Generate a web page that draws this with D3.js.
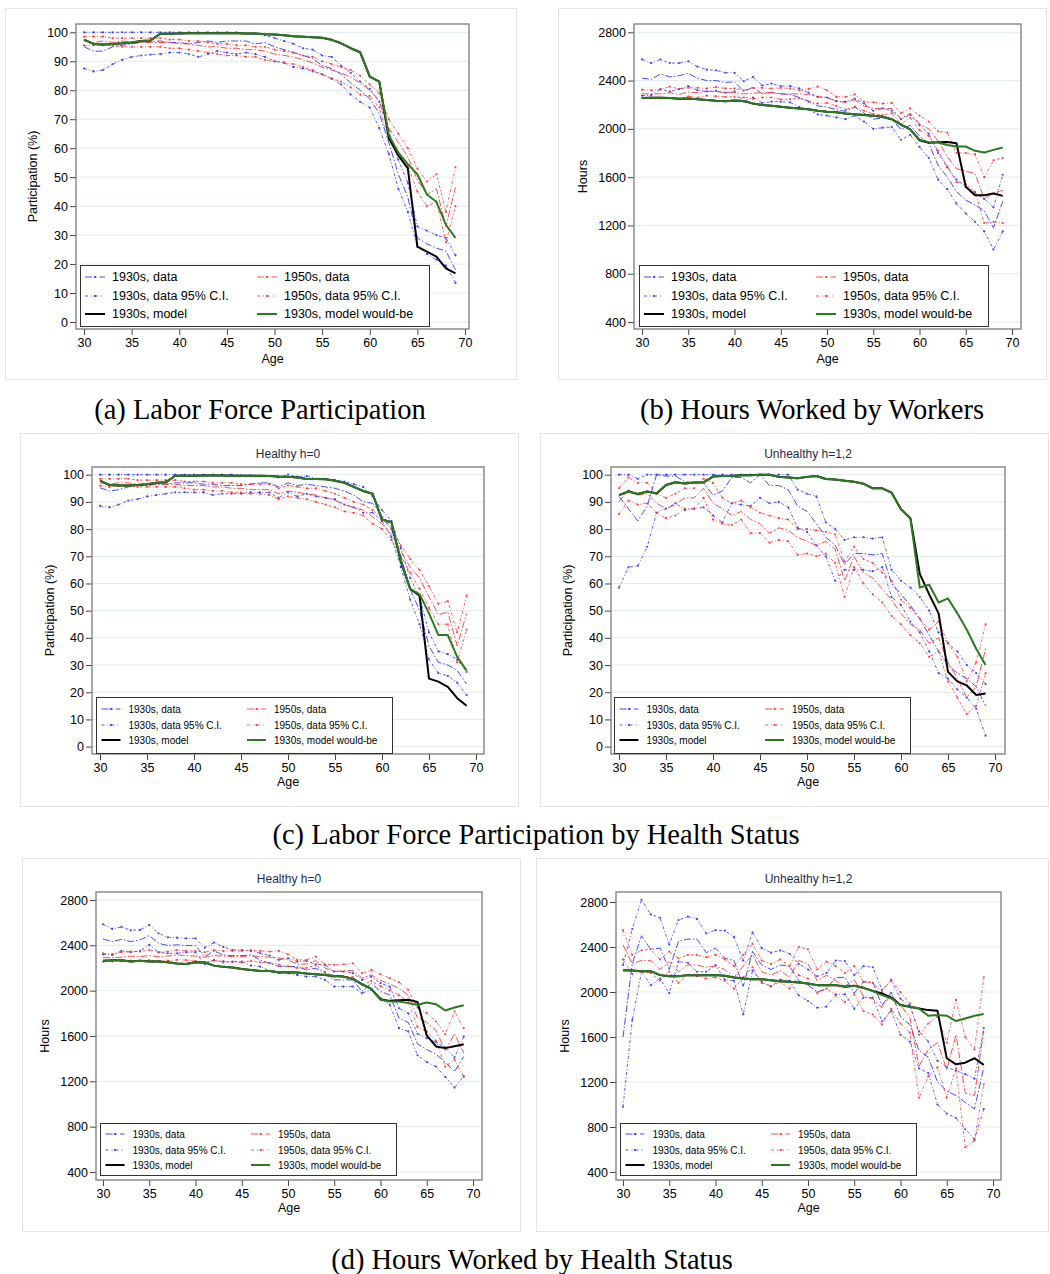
<!DOCTYPE html>
<html>
<head>
<meta charset="utf-8">
<script src="https://cdn.jsdelivr.net/npm/d3@7"></script>
<style>
  body { margin: 0; background: #fff; }
  svg { display: block; }
  text { font-family: "Liberation Sans", Arial, Helvetica, sans-serif; }
  .cap { font-family: "Liberation Serif", "Times New Roman", serif; }
</style>
</head>
<body>
<svg id="fig" width="1050" height="1274"></svg>
<script>
// Ages 30..69
var ages = [30,31,32,33,34,35,36,37,38,39, 40,41,42,43,44,45,46,47,48,49,
            50,51,52,53,54,55,56,57,58,59, 60,61,62,63,64,65,66,67,68,69];
var xTicks = [30,35,40,45,50,55,60,65,70];
var pctTicks = [0,10,20,30,40,50,60,70,80,90,100];
var hourTicks = [400,800,1200,1600,2000,2400,2800];

// (a) participation, all
var aHi30   = [100,100,100,100,100,100,100,100,100,100, 100,100,100,100,100,100,100,99.5,99.5,99, 98,97,96,94.5,94,92,91.5,88.5,86,83, 80.5,76,66,56,48,33,31.5,30,29,23];
var aData30 = [95,93.5,93.5,95,95.5,96,96.5,96.8,97,96.5, 96.5,96,96.5,97,96.5,97,97,97,96,96.5, 95,94,93,92,91,88.5,87.5,85.5,82.5,80, 77,72,62,51,43,29,27,25.5,24.5,18];
var aLo30   = [87.5,86.5,87,89,90.5,91.5,92,92.3,92.5,93, 93,92.5,91.5,92.5,93.5,93,92.5,93,92.5,91.5, 90,89.5,88,87.5,86.5,85.5,84,82,78.5,76, 74,67,58,46,38,26,23.5,21.5,19.5,13.5];
var aHi50   = [98.5,98.5,98.5,98,98,98,98,98,98,97.5, 97.5,97,97,96.5,96,96,95.5,95.5,95,95, 94,93.5,93,92,91.5,90,89,88,87,85, 82,79,70,65,60,53,48.5,51,38,53.5];
var aData50 = [97,96.5,97,96.5,97,96.5,96.5,96.5,96.5,96.5, 96,96,95.5,95,95,94.5,94.5,94,94,93.5, 92.5,92,91.5,90.5,89.5,88,87,86,84.5,82.5, 80,76.5,67,62,57,49,44,46,33,46.5];
var aLo50   = [95.5,95.5,95.5,95.5,95,95,95,95,95,94.5, 94.5,94,93.5,93,92.5,92,92,91.5,91.5,90.5, 90,89.5,89,88,87,85.5,84,83,81,78.5, 78,74,63,58.5,54,45,40,41.5,27.5,40];
var aModel  = [97.5,96,95.8,96,96.2,96.5,97,97.2,99.5,99.5, 99.6,99.7,99.7,99.7,99.7,99.7,99.7,99.6,99.6,99.3, 99.2,99,98.6,98.5,98.3,98.1,97.4,96.2,94.5,93.1, 84.7,83,63.5,57.5,53,26,24.3,22.6,18.5,16.8];
var aWould  = [97.5,96,95.8,96,96.2,96.5,97,97.2,99.5,99.5, 99.6,99.7,99.7,99.7,99.7,99.7,99.7,99.6,99.6,99.3, 99.2,99,98.6,98.5,98.3,98.1,97.4,96.2,94.5,93.1, 84.7,83,64.5,58.5,54.5,51,44,41.5,33.5,29];

// (b) hours, all
var bHi30   = [2575,2545,2575,2545,2545,2560,2515,2490,2485,2465, 2465,2395,2430,2360,2375,2355,2355,2335,2300,2265, 2260,2230,2225,2250,2210,2150,2170,2150,2080,2115, 2030,1960,1800,1680,1580,1520,1470,1420,1350,1620];
var bData30 = [2420,2410,2455,2430,2440,2460,2420,2400,2400,2385, 2390,2310,2345,2290,2300,2290,2285,2260,2230,2190, 2180,2160,2145,2180,2130,2080,2090,2080,1995,2030, 1940,1880,1700,1600,1480,1410,1370,1320,1180,1400];
var bLo30   = [2275,2280,2330,2310,2330,2355,2320,2310,2315,2300, 2310,2225,2260,2215,2225,2225,2220,2180,2160,2120, 2110,2095,2080,2110,2060,2000,2010,2015,1910,1950, 1850,1760,1580,1500,1380,1300,1230,1150,1000,1150];
var bHi50   = [2325,2320,2325,2350,2330,2340,2340,2335,2345,2335, 2335,2320,2340,2340,2335,2340,2335,2320,2330,2350, 2320,2265,2265,2285,2225,2220,2210,2215,2130,2170, 2110,2060,1980,1970,1800,1800,1790,1600,1740,1760];
var bData50 = [2290,2290,2290,2300,2285,2305,2300,2310,2310,2300, 2300,2290,2295,2300,2300,2290,2290,2290,2285,2265, 2260,2230,2220,2240,2190,2170,2165,2170,2085,2130, 2040,2000,1900,1770,1670,1650,1630,1420,1470,1490];
var bLo50   = [2255,2260,2255,2255,2245,2270,2260,2275,2270,2265, 2265,2260,2250,2260,2260,2245,2245,2255,2225,2210, 2215,2190,2160,2185,2150,2125,2115,2130,2040,2090, 1990,1940,1820,1690,1560,1540,1480,1220,1230,1220];
var bModel  = [2255,2258,2258,2255,2250,2252,2245,2240,2232,2228, 2235,2230,2210,2198,2192,2183,2175,2168,2162,2150, 2142,2138,2128,2122,2115,2108,2100,2080,2035,1995, 1905,1885,1890,1892,1880,1520,1450,1450,1465,1445];
var bWould  = [2255,2258,2258,2255,2250,2252,2245,2240,2232,2228, 2235,2230,2210,2198,2192,2183,2175,2168,2162,2150, 2142,2138,2128,2122,2115,2108,2100,2080,2035,1995, 1910,1890,1887,1867,1854,1854,1818,1804,1826,1845];

// (c) participation, healthy
var cHHi30   = [100,100,100,100,100,100,100,100,100,100, 100,100,100,100,100,99.8,99.8,99.5,99.5,99, 100,99.3,99.5,98.5,98.5,98,97.5,96.5,95.5,92, 87,83,73,62,55,42,35,34,32,27.5];
var cHData30 = [95.2,94,94.5,95.5,96,96,96.5,96.5,97,97, 97,96.5,96.5,96,96,96,96.5,97,97,95.5, 97,96,96.5,96,95.5,95,94,92.5,90,89.5, 85,80,70,58,50,37,31,30,28,23];
var cHLo30   = [88.5,88,89,90.5,91,92,92.5,93,93.5,93.5, 93.5,93.5,92.5,93,93,93,93.5,93.5,93.5,91.5, 93.5,92,93,92,91.5,91,89,88,86,86, 83,77,66,54,45,32,27,26,23.5,19];
var cHHi50   = [98.5,98.5,98.5,98.5,98,98,98,98,98,97.5, 97.5,97.5,97,97,97,96.5,96.5,96.5,96.5,95, 96,95.5,95,95,94,93,91.5,90,89,87, 84,80,74,69,65,59,52.5,53.5,42,55.5];
var cHData50 = [97,96.5,97,97,96.5,96.5,96.5,96.5,96.5,96, 96,96,95.5,95.5,95,95,94.5,94.5,94.5,93, 94,93.5,93,92.5,91.5,90.5,89,88,87,84.5, 82,78,72,66,62,55,48.5,49.5,37,49];
var cHLo50   = [96,95.5,96,96,95.5,95.5,95.5,95.5,95.5,95, 94.5,94.5,94,94,93.5,93.5,93,93,92.5,91, 92,91.5,91,90,89,88,86.5,86,85,82, 80,76,70,64,58,51,45,45,31,43];
var cHModel  = [97.8,96.2,96,96,96.2,96.5,97,97.2,99.6,99.6, 99.6,99.7,99.7,99.7,99.6,99.6,99.6,99.6,99.5,99.3, 99.2,99,98.4,98.4,98.3,97.8,97,95.5,94,93, 83.5,82.5,68,58,55.5,25,23.9,22,17.8,15];
var cHWould  = [97.8,96.2,96,96,96.2,96.5,97,97.2,99.6,99.6, 99.6,99.7,99.7,99.7,99.6,99.6,99.6,99.6,99.5,99.3, 99.2,99,98.4,98.4,98.3,97.8,97,95.5,94,93, 83.5,82.5,68.5,58,56,49,41,41,33,28];

// (c) participation, unhealthy
var cUHi30   = [100,100,98.5,100,100,100,100,100,100,100, 100,100,100,100,100,100,100,100,100,94.5, 93,92,82.5,80,76,77,77,76.5,77,65, 61,58.5,55,50,42,38,35,30,27,23];
var cUData30 = [92,87.5,83,88.5,100,99.5,99.5,97.5,97,97, 92.5,94,99,99,97,100,96,96,94.5,88.5, 86.5,82,77,74,67,71,71,70.5,71,60, 56,52,47,41,35,30,27,25,22,15];
var cULo30   = [58.5,66,66.5,73.5,86,87.5,89.5,87,87.5,88, 85,82.5,89.5,89,88.5,91.5,89.5,90,88,80.5, 79,74,70,61,65,65,65,64.5,66,55, 52,46,42,35,27,25,21,18,14,4];
var cUHi50   = [95,99,97,97,93,91.5,93,95,95,98.5, 97,91.5,89.5,90.5,88,86,85,84,83.5,80, 80,79.5,79,78,68,73.5,69,67.5,64,61, 54,51,47,43,46,38,33,24,31,45];
var cUData50 = [90,94.5,92.5,93,89.5,87.5,89,91.5,91.5,95, 89.5,87.5,85,86.5,83.5,82,78.5,80.5,79.5,77, 75.5,74,75.5,72.5,61,70,64,62,58,54, 49,45,43,38,40,31,25,18,22,36];
var cULo50   = [85.5,90.5,89,89.5,86,84,85,87.5,87.5,91.5, 83.5,82,81.5,83.5,78.5,78.5,75,76,75.5,70.5, 71,70,71,67.5,55,66,60,56,53,48, 45,41,38,33,35,24,18,12,15,27];
var cUModel  = [92.5,93.8,92.9,93.8,93.1,96.2,97.2,96.8,97.1,97.2, 99.3,99.5,99.5,99.8,99.8,100,100,99.2,99,98.7, 99.2,99.5,98.4,98.2,97.8,97.4,96.7,95,95,93.4, 87.3,84,63.5,56,49,27.5,24,22.5,19,19.5];
var cUWould  = [92.5,93.8,92.9,93.8,93.1,96.2,97.2,96.8,97.1,97.2, 99.3,99.5,99.5,99.8,99.8,100,100,99.2,99,98.7, 99.2,99.5,98.4,98.2,97.8,97.4,96.7,95,95,93.4, 87.3,84,58.5,59.5,53,54.5,49,43,36,30];

// (d) hours, healthy
var dHHi30   = [2586,2545,2562,2533,2536,2580,2506,2471,2468,2462, 2462,2380,2424,2386,2359,2359,2351,2330,2310,2271, 2286,2257,2263,2233,2227,2169,2169,2154,2095,2124, 2066,2036,1845,1800,1620,1580,1545,1500,1410,1595];
var dHData30 = [2456,2433,2453,2433,2448,2486,2418,2398,2404,2398, 2398,2301,2351,2315,2310,2310,2315,2271,2242,2213, 2213,2213,2183,2198,2154,2095,2095,2095,1992,2066, 1992,1963,1757,1720,1530,1480,1440,1370,1285,1420];
var dHLo30   = [2321,2315,2351,2339,2351,2404,2339,2330,2330,2339, 2339,2233,2271,2251,2257,2257,2221,2213,2174,2154, 2154,2139,2124,2124,2095,2036,2036,2036,1978,2007, 1934,1875,1669,1640,1430,1370,1330,1240,1145,1245];
var dHHi50   = [2330,2321,2339,2345,2345,2359,2340,2345,2359,2351, 2351,2339,2359,2351,2351,2351,2359,2351,2345,2351, 2321,2271,2271,2301,2233,2227,2233,2242,2154,2183, 2145,2110,2075,2007,1851,1801,1728,1616,1816,1669];
var dHData50 = [2292,2292,2295,2305,2300,2310,2300,2305,2315,2310, 2305,2295,2310,2305,2300,2300,2310,2300,2295,2290, 2270,2235,2235,2265,2200,2170,2175,2180,2110,2140, 2090,2060,2020,1960,1760,1720,1650,1470,1620,1450];
var dHLo50   = [2255,2258,2258,2265,2260,2270,2262,2265,2272,2270, 2262,2253,2265,2260,2252,2250,2262,2250,2245,2230, 2215,2200,2200,2225,2165,2120,2125,2120,2050,2085, 2040,2000,1960,1900,1680,1640,1560,1330,1390,1240];
var dHModel  = [2263,2268,2268,2257,2265,2257,2257,2251,2239,2236, 2251,2248,2221,2210,2204,2192,2183,2174,2174,2163, 2163,2160,2151,2145,2139,2130,2124,2104,2057,2016, 1925,1910,1915,1920,1900,1605,1508,1493,1510,1528];
var dHWould  = [2263,2268,2268,2257,2265,2257,2257,2251,2239,2236, 2251,2248,2221,2210,2204,2192,2183,2174,2174,2163, 2163,2160,2151,2145,2139,2130,2124,2104,2057,2016, 1919,1904,1904,1890,1875,1895,1881,1825,1851,1872];

// (d) hours, unhealthy
var dUHi30   = [2240,2560,2820,2690,2660,2420,2640,2670,2650,2520, 2550,2545,2490,2280,2530,2390,2350,2370,2340,2250, 2200,2140,2170,2280,2275,2150,2230,2220,2020,2100, 1940,1880,1650,1560,1390,1330,1300,1270,1230,1680];
var dUData30 = [1600,2250,2500,2380,2390,2200,2450,2470,2470,2350, 2390,2300,2280,2050,2360,2240,2200,2240,2230,2100, 2060,2000,2030,2130,2130,1990,2090,2090,1880,2000, 1780,1710,1480,1420,1200,1120,1080,1020,960,1330];
var dULo30   = [980,1750,2180,2060,2120,1990,2270,2260,2180,2180, 2240,2110,2100,1800,2190,2090,2050,2110,2100,1970, 1920,1860,1870,1980,1980,1850,1950,1950,1740,1830, 1620,1560,1320,1280,1000,920,880,780,690,960];
var dUHi50   = [2550,2330,2370,2380,2290,2360,2300,2330,2330,2310, 2330,2290,2230,2330,2430,2280,2250,2290,2230,2400, 2380,2200,2270,2230,2170,2230,2090,2080,2000,2110, 2000,1900,1620,1720,1780,1550,1930,1600,1490,2130];
var dUData50 = [2420,2250,2280,2280,2200,2270,2180,2240,2240,2220, 2230,2200,2130,2230,2330,2180,2150,2190,2130,2280, 2250,2100,2150,2100,2050,2110,1960,1940,1860,1980, 1880,1780,1340,1490,1550,1310,1620,1100,1080,1660];
var dULo50   = [2290,2160,2180,2170,2100,2180,2080,2150,2140,2120, 2130,2100,2030,2130,2220,2080,2050,2090,2030,2150, 2120,1990,2030,1970,1910,1980,1830,1800,1710,1850, 1720,1640,1060,1250,1330,1060,1320,620,680,1180];
var dUModel  = [2194,2191,2185,2185,2150,2141,2141,2150,2150,2150, 2150,2144,2129,2120,2114,2114,2105,2096,2091,2085, 2076,2061,2061,2061,2046,2055,2037,2010,1987,1950, 1884,1869,1854,1839,1833,1411,1357,1372,1411,1352];
var dUWould  = [2194,2191,2185,2185,2150,2141,2141,2150,2150,2150, 2150,2144,2129,2120,2114,2114,2105,2096,2091,2085, 2076,2061,2061,2061,2046,2055,2037,2008,1972,1943, 1884,1869,1854,1789,1795,1789,1742,1765,1789,1804];

var legendLabels = [['1930s, data', '1950s, data'],
                    ['1930s, data 95% C.I.', '1950s, data 95% C.I.'],
                    ['1930s, model', '1930s, model would-be']];

// line styles
var BLUE = '#2a2aff', RED = '#ff2e2e';
var sty = {
  data30: {c: BLUE, w: 1, dash: '7,2,1.5,2', dot: false},
  ci30:   {c: BLUE, w: 0.9, dash: '3,2,1,2', dot: true},
  data50: {c: RED, w: 1, dash: '7,2,1.5,2', dot: false},
  ci50:   {c: RED, w: 0.9, dash: '3,2,1,2', dot: true},
  model:  {c: '#000', w: 2, dash: null, dot: false},
  would:  {c: '#2b7a20', w: 2, dash: null, dot: false}
};
var legendStyles = [[sty.data30, sty.data50], [sty.ci30, sty.ci50], [sty.model, sty.would]];

var svg = d3.select('#fig');

function drawPanel(p) {
  var g = svg.append('g');
  g.append('rect')
    .attr('x', p.box[0] + 0.5).attr('y', p.box[1] + 0.5)
    .attr('width', p.box[2] - p.box[0]).attr('height', p.box[3] - p.box[1])
    .attr('fill', '#fff').attr('stroke', '#e4e4e4');

  var x = d3.scaleLinear().domain([30, 70]).range(p.xr);
  var y = d3.scaleLinear().domain(p.dom).range(p.yr);
  var f = p.frame;

  // gridlines
  g.selectAll('.grid').data(p.ticks).enter().append('line')
    .attr('x1', f[0]).attr('x2', f[2])
    .attr('y1', function(d) { return y(d); }).attr('y2', function(d) { return y(d); })
    .attr('stroke', '#e2ebee').attr('stroke-width', 1);

  // axes
  var ya = g.append('g')
    .attr('transform', 'translate(' + f[0] + ',0)')
    .call(d3.axisLeft(y).tickValues(p.ticks).tickFormat(d3.format('d')).tickSize(6).tickPadding(2));
  var xa = g.append('g')
    .attr('transform', 'translate(0,' + f[3] + ')')
    .call(d3.axisBottom(x).tickValues(xTicks).tickFormat(d3.format('d')).tickSize(6).tickPadding(3));
  [ya, xa].forEach(function(a) {
    a.select('.domain').remove();
    a.attr('font-family', '"Liberation Sans", Arial, sans-serif').attr('font-size', p.tickFs);
    a.selectAll('line').attr('stroke', '#444');
    a.selectAll('text').attr('fill', '#000');
  });

  // series
  var line = d3.line()
    .x(function(d, i) { return x(ages[i]); })
    .y(function(d) { return y(d); });
  var series = [
    [p.s.hi30, sty.ci30], [p.s.lo30, sty.ci30], [p.s.data30, sty.data30],
    [p.s.hi50, sty.ci50], [p.s.lo50, sty.ci50], [p.s.data50, sty.data50],
    [p.s.model, sty.model], [p.s.would, sty.would]
  ];
  series.forEach(function(s) {
    var st = s[1];
    g.append('path').datum(s[0])
      .attr('d', line)
      .attr('fill', 'none')
      .attr('stroke', st.c)
      .attr('stroke-width', st.w)
      .attr('stroke-dasharray', st.dash)
      .attr('stroke-linejoin', 'round')
      .attr('opacity', st.dash ? 0.85 : 1);
    if (st.dot) {
      g.append('g').selectAll('circle').data(s[0]).enter().append('circle')
        .attr('cx', function(d, i) { return x(ages[i]); })
        .attr('cy', function(d) { return y(d); })
        .attr('r', 1.1)
        .attr('fill', st.c).attr('opacity', 0.85);
    }
  });

  // frame
  g.append('rect')
    .attr('x', f[0]).attr('y', f[1])
    .attr('width', f[2] - f[0]).attr('height', f[3] - f[1])
    .attr('fill', 'none').attr('stroke', '#7a7a7a').attr('stroke-width', 1.3);

  // legend
  var L = p.leg;
  var lg = g.append('g').attr('transform', 'translate(' + L.x + ',' + L.y + ')');
  lg.append('rect').attr('x', 0.5).attr('y', 0.5).attr('width', L.w).attr('height', L.h)
    .attr('fill', '#fff').attr('stroke', '#333').attr('stroke-width', 1);
  legendLabels.forEach(function(row, r) {
    row.forEach(function(lab, c) {
      var st = legendStyles[r][c];
      var x0 = c === 0 ? L.c1 : L.c2;
      var ly = L.rows[r];
      lg.append('line')
        .attr('x1', x0).attr('x2', x0 + L.sw).attr('y1', ly).attr('y2', ly)
        .attr('stroke', st.c).attr('stroke-width', st.w)
        .attr('stroke-dasharray', st.dash ? (st.dot ? '3,3,1,3' : '7,3,1.5,3') : null)
        .attr('opacity', st.dash ? 0.85 : 1);
      if (st.dash || r === 2) {
        lg.append('circle').attr('cx', x0 + L.sw / 2).attr('cy', ly).attr('r', 1.1).attr('fill', st.c);
      }
      lg.append('text')
        .attr('x', x0 + L.sw + L.gap).attr('y', ly).attr('dy', '0.35em')
        .attr('font-size', L.fs).attr('fill', '#000')
        .text(lab);
    });
  });

  // titles
  var cx = (f[0] + f[2]) / 2, cy = (f[1] + f[3]) / 2;
  g.append('text').attr('x', cx).attr('y', p.ageY).attr('text-anchor', 'middle')
    .attr('font-size', p.tickFs).text('Age');
  g.append('text')
    .attr('transform', 'translate(' + p.ytx + ',' + cy + ') rotate(-90)')
    .attr('text-anchor', 'middle').attr('dy', '0.35em')
    .attr('font-size', p.tickFs).text(p.ytitle);
  if (p.title) {
    g.append('text').attr('x', cx).attr('y', p.titleY).attr('text-anchor', 'middle')
      .attr('font-size', 12).attr('fill', '#1e2a4a').text(p.title);
  }
}

var legAB = {w: 349, h: 61, rows: [12, 31, 49], fs: 12.5, c1: 5, c2: 177, sw: 20, gap: 7};
var legCD = {w: 296, h: 56, rows: [12, 28, 43], fs: 10, c1: 5.5, c2: 151, sw: 19, gap: 8};
function leg(base, x, y, h) {
  var o = Object.assign({}, base); o.x = x; o.y = y; if (h) o.h = h; return o;
}

var panels = [
  {box: [5, 8, 516, 379], frame: [76, 24, 469, 329], xr: [84, 465], yr: [322, 32.3], dom: [0, 100],
   ticks: pctTicks, tickFs: 12.5, ytitle: 'Participation (%)', ytx: 33, ageY: 363,
   leg: leg(legAB, 80, 265),
   s: {hi30: aHi30, data30: aData30, lo30: aLo30, hi50: aHi50, data50: aData50, lo50: aLo50, model: aModel, would: aWould}},
  {box: [558, 8, 1046, 379], frame: [634, 24, 1021, 329], xr: [642, 1012], yr: [322, 32.3], dom: [400, 2800],
   ticks: hourTicks, tickFs: 12.5, ytitle: 'Hours', ytx: 583, ageY: 363,
   leg: leg(legAB, 639, 265),
   s: {hi30: bHi30, data30: bData30, lo30: bLo30, hi50: bHi50, data50: bData50, lo50: bLo50, model: bModel, would: bWould}},
  {box: [20, 433, 518, 806], frame: [92, 467, 484, 754], xr: [100, 476], yr: [746.6, 474.7], dom: [0, 100],
   ticks: pctTicks, tickFs: 12.5, ytitle: 'Participation (%)', ytx: 50, ageY: 786,
   title: 'Healthy h=0', titleY: 458, leg: leg(legCD, 96, 697),
   s: {hi30: cHHi30, data30: cHData30, lo30: cHLo30, hi50: cHHi50, data50: cHData50, lo50: cHLo50, model: cHModel, would: cHWould}},
  {box: [540, 433, 1048, 806], frame: [611, 467, 1005, 754], xr: [619, 995], yr: [746.6, 474.7], dom: [0, 100],
   ticks: pctTicks, tickFs: 12.5, ytitle: 'Participation (%)', ytx: 568, ageY: 786,
   title: 'Unhealthy h=1,2', titleY: 458, leg: leg(legCD, 614, 697),
   s: {hi30: cUHi30, data30: cUData30, lo30: cULo30, hi50: cUHi50, data50: cUData50, lo50: cULo50, model: cUModel, would: cUWould}},
  {box: [22, 858, 520, 1231], frame: [96, 892, 482, 1180], xr: [103, 473], yr: [1172, 900], dom: [400, 2800],
   ticks: hourTicks, tickFs: 12.5, ytitle: 'Hours', ytx: 45, ageY: 1212,
   title: 'Healthy h=0', titleY: 883, leg: leg(legCD, 100, 1123, 52),
   s: {hi30: dHHi30, data30: dHData30, lo30: dHLo30, hi50: dHHi50, data50: dHData50, lo50: dHLo50, model: dHModel, would: dHWould}},
  {box: [536, 858, 1048, 1231], frame: [616, 892, 1001, 1180], xr: [623, 993], yr: [1172, 902], dom: [400, 2800],
   ticks: hourTicks, tickFs: 12.5, ytitle: 'Hours', ytx: 565, ageY: 1212,
   title: 'Unhealthy h=1,2', titleY: 883, leg: leg(legCD, 620, 1123, 52),
   s: {hi30: dUHi30, data30: dUData30, lo30: dULo30, hi50: dUHi50, data50: dUData50, lo50: dULo50, model: dUModel, would: dUWould}}
];
panels[4].leg.rows = [11, 27, 42];
panels[5].leg.rows = [11, 27, 42];

panels.forEach(drawPanel);

// sub-figure captions
var captions = [
  ['(a) Labor Force Participation', 260, 419],
  ['(b) Hours Worked by Workers', 812, 419],
  ['(c) Labor Force Participation by Health Status', 536, 844],
  ['(d) Hours Worked by Health Status', 532, 1269]
];
svg.selectAll('.cap').data(captions).enter().append('text')
  .attr('class', 'cap')
  .attr('x', function(d) { return d[1]; })
  .attr('y', function(d) { return d[2]; })
  .attr('text-anchor', 'middle')
  .attr('font-size', 28.5)
  .attr('fill', '#000')
  .text(function(d) { return d[0]; });
</script>
</body>
</html>
